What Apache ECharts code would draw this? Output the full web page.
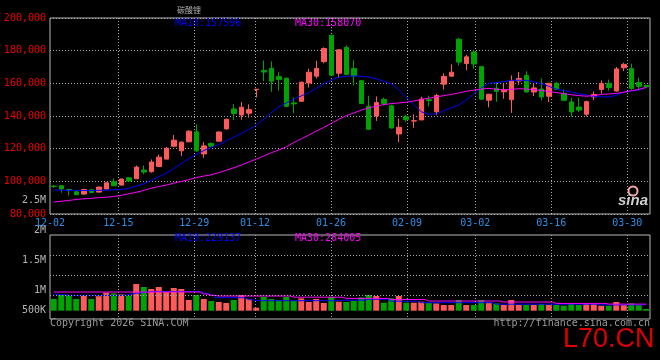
<!DOCTYPE html>
<html><head><meta charset="utf-8">
<script src="https://cdn.jsdelivr.net/npm/echarts@6/dist/echarts.min.js"></script>
<style>html,body{margin:0;padding:0;background:#000;}#c{width:660px;height:360px;}</style>
</head><body><div id="c"></div>
<script>
// ---------------- data ----------------
const dates = ['12-02','12-03','12-04','12-05','12-08','12-09','12-10','12-11','12-12','12-15','12-16','12-17','12-18','12-19','12-22','12-23','12-24','12-25','12-26','12-29','12-30','12-31',
'01-05','01-06','01-07','01-08','01-09','01-12','01-13','01-14','01-15','01-16','01-19','01-20','01-21','01-22','01-23','01-26','01-27','01-28','01-29','01-30',
'02-02','02-03','02-04','02-05','02-06','02-09','02-10','02-11','02-12','02-13','02-24','02-25','02-26','02-27',
'03-02','03-03','03-04','03-05','03-06','03-09','03-10','03-11','03-12','03-13','03-16','03-17','03-18','03-19','03-20','03-23','03-24','03-25','03-26','03-27','03-30','03-31','04-01','04-02'];
const labelDates = ['12-02','12-15','12-29','01-12','01-26','02-09','03-02','03-16','03-30'];

const open = [97000,97300,95000,93600,92200,94800,93400,95300,99700,97700,
102200,101600,106900,105900,109100,113600,121500,118700,124200,130300,
116800,123200,124600,132100,144300,140600,141700,156200,167900,169200,
164100,163100,148000,149000,160200,164400,173300,189400,166200,182000,
169000,161600,146000,140000,150200,146200,129000,139500,136900,137600,
150000,142600,159500,164400,187000,172100,179200,170200,149700,157000,
154800,150000,161400,164900,154700,156500,152100,160000,153700,148600,
145500,141100,151700,156300,159800,155300,169500,169000,160500,158800];
const close = [96800,95300,94700,91800,95000,93100,96500,99100,97300,101400,
100200,108700,105700,111800,114800,120300,125200,124000,130700,118700,
121700,121500,130200,138000,141500,145400,143900,156400,166900,161300,
162300,145900,147400,160700,166800,169100,181300,165000,180500,165500,
164500,147700,131900,148200,147700,132700,133100,137800,137100,150400,
149400,152500,164200,166800,173000,176200,171800,150300,153300,155100,
156100,161600,163000,154700,157200,151700,160000,156200,149600,142500,
143600,148800,153200,159800,157400,168800,171600,156900,158200,157800];
const low = [96100,93000,91300,91700,91600,92900,93300,95100,97200,97500,
100000,101400,104400,105300,108700,113500,121000,115600,124000,118000,
114400,121000,124300,131800,137600,137700,139000,151400,161200,154800,
155500,145500,141600,148700,157400,163000,172300,164500,163500,164900,
158700,147300,131500,137000,146500,132300,124000,136400,132800,137400,
145900,140500,156300,164000,170900,168000,169000,150000,145300,148700,
150600,141900,159100,154500,152200,149600,148600,156000,149400,139600,
142500,139800,149800,153700,155500,155000,167500,156100,156300,157400];
const high = [97700,97500,95300,93800,95500,95000,96700,99400,101800,101600,
102400,109700,109700,113400,116400,121100,128400,124400,131300,135000,
124000,123800,130600,138400,147200,148500,147100,156500,174000,173500,
166800,163600,151300,161000,168900,173800,182000,189600,181000,183200,
174100,162000,152400,152000,151200,147000,138500,140800,141000,151800,
152500,153600,166200,171600,187900,177500,180100,170700,153600,160600,
159800,164900,166900,167400,160100,163000,160300,160800,156200,151000,
151200,149400,155000,161800,162300,170000,172600,172000,163400,159000];

const ma10 = [94700,94600,94500,94500,94400,94400,94500,94600,94800,95000,
95700,97000,98500,100600,102800,105000,107800,110800,113800,116500,
118800,120800,122500,124800,127000,129300,131700,134300,138000,142000,
145500,148000,150300,152300,154300,157000,159800,162000,163800,164300,
164500,164400,163800,162800,161300,159700,156000,151300,147000,142600,
141000,141300,143200,145000,146800,149800,153400,157200,160000,160400,
161000,161800,161900,161800,160900,159800,158200,156500,155500,154700,
153600,152800,152000,151700,151700,152700,154500,155400,155800,157600];
const ma30 = [87300,87800,88300,88900,89300,89600,90000,90300,90700,91400,
92400,93300,94400,95800,96800,97700,98900,99900,101000,102300,
103200,104000,105300,106800,108300,110000,111800,113600,115500,117500,
119200,121100,123700,126000,128300,130700,133000,135500,138000,140200,
141800,143600,145000,146000,147000,147600,148000,148400,149200,150100,
150900,151700,152500,153200,154100,155100,155900,156500,156900,156400,
155900,156300,156700,156500,156200,155600,155000,154400,153700,153000,
152500,152100,152500,153200,153500,153800,154600,155500,156300,157500];

const volume = [468000,628000,628000,468000,600000,468000,580000,720000,692000,652000,
600000,1068000,948000,868000,948000,760000,908000,868000,428000,628000,
468000,388000,348000,308000,428000,628000,468000,120000,548000,468000,
428000,548000,400000,492000,348000,468000,308000,548000,360000,348000,
388000,532000,628000,588000,320000,492000,588000,320000,320000,360000,
320000,292000,228000,228000,428000,228000,228000,428000,320000,292000,
228000,428000,228000,228000,228000,268000,228000,228000,200000,268000,
228000,268000,268000,200000,200000,348000,228000,292000,228000,68000];
const volMa10 = [660000,640000,612000,612000,612000,612000,612000,612000,612000,612000,
660000,700000,740000,770000,770000,770000,770000,770000,770000,770000,
700000,620000,520000,520000,520000,520000,440000,400000,400000,400000,
400000,400000,400000,400000,400000,400000,400000,400000,420000,420000,
420000,420000,460000,460000,460000,380000,380000,380000,380000,320000,
320000,320000,320000,320000,320000,320000,320000,320000,320000,260000,
260000,260000,260000,260000,260000,260000,260000,260000,260000,260000,
260000,260000,260000,232000,232000,232000,232000,232000,232000,232000];
const volMa30 = [748000,748000,748000,748000,748000,748000,748000,748000,748000,748000,
748000,748000,748000,748000,748000,748000,748000,748000,748000,748000,
668000,612000,588000,588000,588000,588000,588000,588000,588000,588000,
588000,588000,540000,540000,540000,540000,540000,540000,540000,492000,
492000,492000,492000,492000,492000,448000,448000,448000,448000,448000,
388000,388000,388000,388000,388000,388000,388000,388000,388000,388000,
348000,348000,348000,348000,348000,348000,348000,292000,292000,292000,
292000,292000,292000,292000,264000,264000,264000,264000,264000,264000];

const titleText = '碳酸锂';
const priceMaTexts = ['MA10:157596', 'MA30:158070'];
const volMaTexts = ['MA10:229137', 'MA30:264005'];
const volTickLabels = ['2.5M', '2M', '1.5M', '1M', '500K'];
const copyrightText = 'Copyright 2026 SINA.COM';
const urlText = 'http://finance.sina.com.cn';
const watermark = 'L70.CN';

// ---------------- style / layout ----------------
const UP = '#ff5a5a', DOWN = '#00a400';
const BLUE = '#0000ff', MAG = '#ff00ff';
const MONO = '"DejaVu Sans Mono", monospace';
const FRAME = '#b8b8b8', GRIDC = '#a8a8a8';
const volTickY = [200, 230.5, 260.5, 290.5, 310];
const volGridValues = [616000, 1416000, 2228000];
const labelIdx = labelDates.map(d => dates.indexOf(d));

const chart = echarts.init(document.getElementById('c'), null, {renderer: 'canvas'});
const hiddenCat = (g) => ({type:'category', gridIndex:g, data:dates, boundaryGap:true, position:'top',
  axisLine:{show:false}, axisTick:{show:false}, axisLabel:{show:false}, splitLine:{show:false}});
const gridCat = (g, labels) => ({type:'category', gridIndex:g, data:dates, boundaryGap:false, position:'bottom',
  axisLine:{show:false}, axisTick:{show:false},
  axisLabel:{show:labels, interval:(i)=>labelIdx.includes(i), color:'#2b8fe8', fontFamily:MONO, fontSize:10, margin:4},
  splitLine:{show:true, interval:(i)=>labelIdx.includes(i) && i>0, lineStyle:{color:GRIDC, type:[1,2], width:1}}});

const textG = (text, x, y, fill, font, align) => ({type:'text', x, y, silent:true,
  style:{text, fill, font, align: align || 'left', verticalAlign:'middle'}});

chart.setOption({
  animation:false,
  backgroundColor:'#000',
  grid:[
    {left:50, top:18, width:600, height:196, show:true, borderColor:FRAME, borderWidth:1, backgroundColor:'transparent'},
    {left:50, top:235, width:600, height:84, show:true, borderColor:FRAME, borderWidth:1, backgroundColor:'transparent'}
  ],
  xAxis:[hiddenCat(0), gridCat(0, true), hiddenCat(1), gridCat(1, false)],
  yAxis:[
    {type:'value', gridIndex:0, min:80000, max:200000, interval:20000,
     axisLine:{show:false}, axisTick:{show:false},
     axisLabel:{color:'#f00000', fontFamily:MONO, fontSize:10, margin:4},
     splitLine:{show:true, lineStyle:{color:GRIDC, type:[1,2], width:1}}},
    {type:'value', gridIndex:1, min:-332000, max:3028000,
     axisLine:{show:false}, axisTick:{show:false}, axisLabel:{show:false}, splitLine:{show:false}}
  ],
  series:[
    {type:'candlestick', xAxisIndex:0, yAxisIndex:0, barWidth:5,
     data: dates.map((d,i)=>[open[i], close[i], low[i], high[i]]),
     itemStyle:{color:UP, color0:DOWN, borderColor:UP, borderColor0:DOWN, borderWidth:1}},
    {type:'line', xAxisIndex:0, yAxisIndex:0, data:ma10, symbol:'none', lineStyle:{color:BLUE, width:1}},
    {type:'line', xAxisIndex:0, yAxisIndex:0, data:ma30, symbol:'none', lineStyle:{color:MAG, width:1}},
    {type:'bar', xAxisIndex:2, yAxisIndex:1, barWidth:6,
     data: volume.map((v,i)=>({value:v, itemStyle:{color: close[i] >= open[i] ? UP : DOWN}})),
     markLine:{silent:true, symbol:'none', label:{show:false},
       lineStyle:{color:GRIDC, type:[1,2], width:1},
       data: volGridValues.map(v=>({yAxis:v}))}},
    {type:'line', xAxisIndex:2, yAxisIndex:1, data:volMa10, step:'middle', symbol:'none', lineStyle:{color:BLUE, width:1}},
    {type:'line', xAxisIndex:2, yAxisIndex:1, data:volMa30, step:'middle', symbol:'none', lineStyle:{color:MAG, width:1}}
  ],
  graphic:[
    textG(titleText, 177, 10, '#b0b0b0', '8px "Noto Sans CJK SC"'),
    textG(priceMaTexts[0], 175, 23.5, BLUE, '10px ' + MONO),
    textG(priceMaTexts[1], 295, 23.5, MAG, '10px ' + MONO),
    textG(volMaTexts[0], 175, 238.5, BLUE, '10px ' + MONO),
    textG(volMaTexts[1], 295, 238.5, MAG, '10px ' + MONO),
    ...volTickLabels.map((t,k)=>textG(t, 46, volTickY[k], '#b4b4b4', '10px ' + MONO, 'right')),
    textG(copyrightText, 50, 323.5, '#9a9a9a', '10px ' + MONO),
    textG(urlText, 650, 323.5, '#9a9a9a', '10px ' + MONO, 'right'),
    textG(watermark, 563, 340, '#e00000', '27px "Liberation Sans", Arial, sans-serif'),
    {type:'circle', silent:true, shape:{cx:633, cy:191, r:4.5}, style:{fill:'none', stroke:'#f2a8a8', lineWidth:2}},
    textG('sina', 618, 201, '#cfcfcf', 'italic bold 15px "Liberation Sans", sans-serif')
  ]
});
</script>
</body></html>
